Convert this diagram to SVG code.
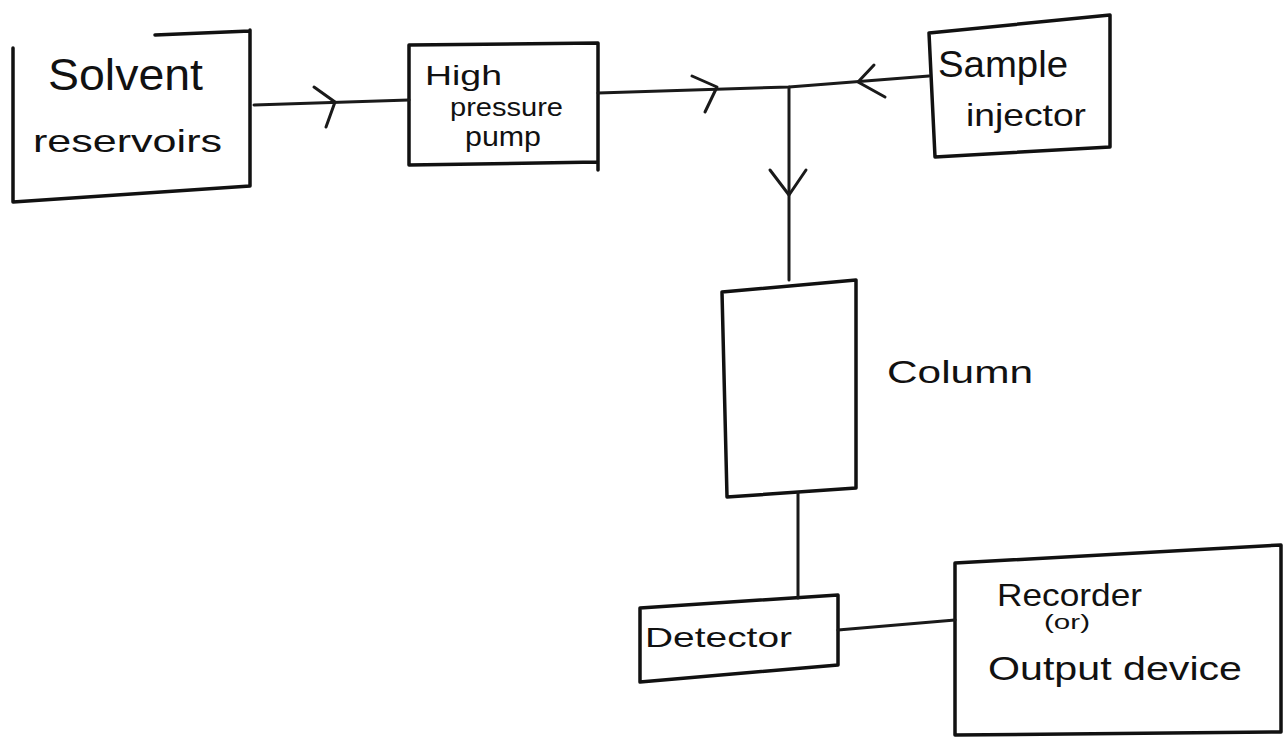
<svg xmlns="http://www.w3.org/2000/svg" width="1283" height="738" viewBox="0 0 1283 738">
<style>
.b{fill:none;stroke:#111;stroke-width:3.5;stroke-linecap:round;stroke-linejoin:round}
.c{fill:none;stroke:#1a1a1a;stroke-width:3;stroke-linecap:round;stroke-linejoin:round}
.t{font-family:"Liberation Sans","DejaVu Sans",sans-serif;fill:#111}
</style>
<rect width="1283" height="738" fill="#fff"/>
<g id="solvent">
<path class="b" d="M13,48 L13,202 L250,186 L250,30 M155,35 L250,31"/>
<text class="t" x="48" y="90" font-size="44" textLength="155" lengthAdjust="spacingAndGlyphs">Solvent</text>
<text class="t" x="33" y="152" font-size="32" textLength="189" lengthAdjust="spacingAndGlyphs">reservoirs</text>
</g>
<g id="pump">
<path class="b" d="M409,45 L598,43 L598,170 M409,45 L409,165 L598,162"/>
<text class="t" x="425" y="85" font-size="28" textLength="77" lengthAdjust="spacingAndGlyphs">High</text>
<text class="t" x="450" y="116" font-size="25" textLength="113" lengthAdjust="spacingAndGlyphs">pressure</text>
<text class="t" x="465" y="146" font-size="27" textLength="76" lengthAdjust="spacingAndGlyphs">pump</text>
</g>
<g id="injector">
<path class="b" d="M929,33 L1110,15 L1110,147 L935,157 L929,33"/>
<text class="t" x="938" y="77" font-size="36" textLength="130" lengthAdjust="spacingAndGlyphs">Sample</text>
<text class="t" x="966" y="126" font-size="32" textLength="120" lengthAdjust="spacingAndGlyphs">injector</text>
</g>
<g id="column">
<path class="b" d="M722,292 L856,280 L856,488 L727,497 L722,292"/>
<text class="t" x="887" y="383" font-size="32" textLength="146" lengthAdjust="spacingAndGlyphs">Column</text>
</g>
<g id="detector">
<path class="b" d="M640,608 L838,595 L838,665 L640,682 L640,608"/>
<text class="t" x="645" y="647" font-size="28" textLength="147" lengthAdjust="spacingAndGlyphs">Detector</text>
</g>
<g id="recorder">
<path class="b" d="M955,563 L1281,545 L1281,732 L955,735 L955,563"/>
<text class="t" x="997" y="606" font-size="32" textLength="145" lengthAdjust="spacingAndGlyphs">Recorder</text>
<text class="t" x="1044" y="629" font-size="20" textLength="46" lengthAdjust="spacingAndGlyphs">(or)</text>
<text class="t" x="988" y="680" font-size="34" textLength="254" lengthAdjust="spacingAndGlyphs">Output device</text>
</g>
<g id="connectors">
<path class="c" d="M254,105 L409,100"/>
<path class="c" d="M314,87 L335,102 L326,127"/>
<path class="c" d="M598,93 L789,87 L929,76"/>
<path class="c" d="M692,76 L717,87 L705,112"/>
<path class="c" d="M874,65 L858,82 L885,97"/>
<path class="c" d="M789,87 L789,280"/>
<path class="c" d="M770,170 L789,195 L806,170"/>
<path class="c" d="M798,493 L798,598"/>
<path class="c" d="M838,630 L955,620"/>
</g>
</svg>
